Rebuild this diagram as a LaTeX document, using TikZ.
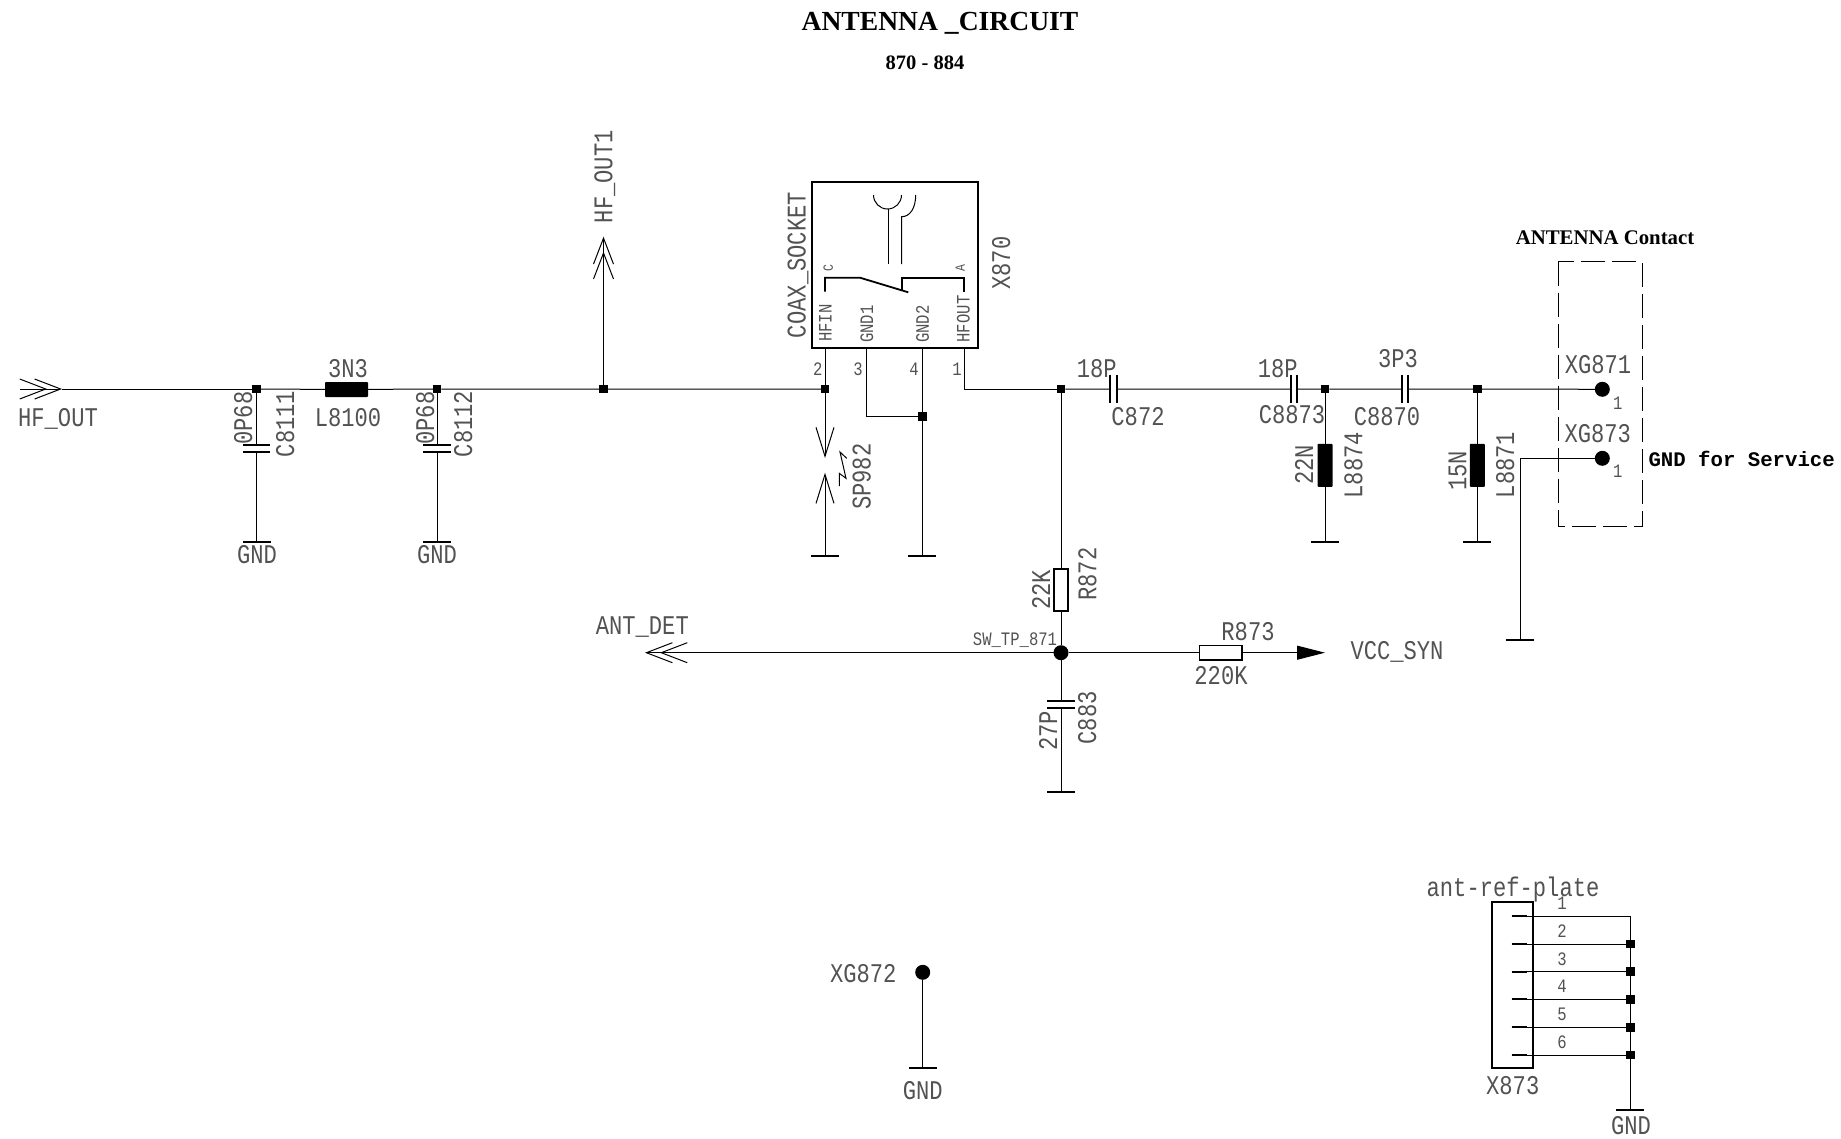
\documentclass[tikz,border=0pt]{standalone}
\usepackage{fontspec}
\setmainfont{Liberation Serif}
\newfontfamily\cadfont[FakeStretch=0.82]{Liberation Mono}
\newfontfamily\servicefont{Liberation Mono}
\usetikzlibrary{arrows.meta}
\tikzset{
	lab/.style={font=\cadfont\fontsize{27}{27}\selectfont,inner sep=0pt,outer sep=0pt,text height=18pt,text depth=0pt,text=black!68},
	vlab/.style={lab,rotate=90},
	small/.style={font=\cadfont\fontsize{19}{19}\selectfont,inner sep=0pt,outer sep=0pt,text height=13pt,text depth=0pt,text=black!68},
	vsmall/.style={small,rotate=90},
	tiny/.style={vsmall,font=\cadfont\fontsize{14}{14}\selectfont,text height=9.5pt},
	title/.style={font=\bfseries\fontsize{#1}{#1}\selectfont,inner sep=0pt},
	junct/.style={rectangle,fill=black,minimum size=8.5pt,inner sep=0pt,outer sep=0pt},
	bigdot/.style={circle,fill=black,minimum size=15pt,inner sep=0pt,outer sep=0pt},
	ind/.style={rectangle,rounded corners=0.8pt,fill=black,inner sep=0pt,outer sep=0pt},
	res/.style={rectangle,draw,line width=1.8pt,fill=white,inner sep=0pt,outer sep=0pt},
	capnode/.style={rectangle,inner sep=0pt,outer sep=0pt},
	gndbar/.style={rectangle,fill=black,minimum width=28pt,minimum height=1.8pt,inner sep=0pt,outer sep=0pt},
	plate/.style={line width=1.8pt},
	chevron/.tip={Straight Barb[length=26pt,width=20pt,sep=-13pt] Straight Barb[length=26pt,width=20pt]},
	barb/.tip={Straight Barb[length=29pt,width=18pt]},
}
\begin{document}
\begin{tikzpicture}[x=1pt,y=-1pt,line width=1pt]
	\useasboundingbox (0,0) rectangle (1841,1138);
	% titles
	\node[title=27.6] (tMain) at (940,23.5) {ANTENNA \_CIRCUIT};
	\node[title=20.5] (tRange) at (925,62.5) {870 - 884};
	\node[title=20.8] (tContact) at (1605,237.5) {ANTENNA Contact};
	% junctions
	\node[junct] (j1) at (256.5,389) {};
	\node[junct] (j2) at (437,389) {};
	\node[junct] (j3) at (603.5,389) {};
	\node[junct] (j4) at (825,389) {};
	\node[junct] (j5) at (922.3,416.7) {};
	\node[junct] (j6) at (1061,389) {};
	\node[junct] (j7) at (1325,389) {};
	\node[junct] (j8) at (1477.3,389) {};
	\node[bigdot] (j9) at (1061,652.7) {};
	% parts
	\node[ind,minimum width=43pt,minimum height=15pt] (L8100) at (346.5,389.5) {};
	\node[ind,minimum width=15pt,minimum height=43pt] (L8874) at (1325,465.3) {};
	\node[ind,minimum width=15pt,minimum height=43pt] (L8871) at (1477.3,465.3) {};
	\node[res,minimum width=14.5pt,minimum height=41.5pt] (R872) at (1061,590) {};
	\node[res,minimum width=42.5pt,minimum height=14.5pt] (R873) at (1220.7,652.7) {};
	\node[capnode,minimum width=27.5pt,minimum height=6.7pt] (C8111) at (256.5,448.3) {};
	\node[capnode,minimum width=27.5pt,minimum height=6.7pt] (C8112) at (437,448.3) {};
	\node[capnode,minimum width=27.5pt,minimum height=7.3pt] (C883) at (1061,704.7) {};
	\node[capnode,minimum width=6.7pt,minimum height=27.7pt] (C872) at (1113.3,389) {};
	\node[capnode,minimum width=6.7pt,minimum height=27.7pt] (C8873) at (1294,389) {};
	\node[capnode,minimum width=6.7pt,minimum height=27.7pt] (C8870) at (1405,389) {};
	\foreach \c in {C8111,C8112,C883}
		\draw[plate] (\c.north west) -- (\c.north east) (\c.south west) -- (\c.south east);
	\foreach \c in {C872,C8873,C8870}
		\draw[plate] (\c.north west) -- (\c.south west) (\c.north east) -- (\c.south east);
	% ground bars
	\node[gndbar] (g1) at (256.5,541.7) {};
	\node[gndbar] (g2) at (437,541.7) {};
	\node[gndbar] (g3) at (825,556) {};
	\node[gndbar] (g4) at (922.3,556) {};
	\node[gndbar] (g5) at (1325,541.7) {};
	\node[gndbar] (g6) at (1477.3,541.7) {};
	\node[gndbar] (g7) at (1520,640) {};
	\node[gndbar] (g8) at (1061,791.7) {};
	\node[gndbar] (g9) at (922.7,1068.3) {};
	\node[gndbar] (g10) at (1630.3,1110) {};
	% test points
	\node[bigdot] (XG871) at (1602.3,389.3) {};
	\node[bigdot] (XG873) at (1602.3,458.3) {};
	\node[bigdot] (XG872) at (922.7,972.3) {};
	% socket
	\draw[line width=1.8pt] (811.7,181.7) rectangle (978,347.7);
	\coordinate (pinHFIN) at (825,347.7);
	\coordinate (pinGND1) at (866.7,347.7);
	\coordinate (pinGND2) at (922.3,347.7);
	\coordinate (pinHFOUT) at (964,347.7);
	\draw[line width=1.8pt] (825,291.7) -- (825,277.7) -- (860,277.7) -- (908.3,292.3);
	\draw[line width=1.8pt] (964,291.7) -- (964,277.7) -- (901.7,277.7) -- (901.7,290);
	\draw (873.5,195) arc[start angle=180,end angle=0,radius=14];
	\draw (888,209) -- (888,264);
	\draw (915.7,195) .. controls (915.7,208) and (910,216.7) .. (901.7,216.7) -- (901.7,264);
	% wires
	\coordinate (hftail) at (20,389);
	\coordinate (hftip) at (62,389);
	\coordinate (hfout1) at (603.5,236.7);
	\coordinate (antdet) at (645,652.7);
	\coordinate (vccsyn) at (1325,652.7);
	\coordinate (sparkA) at (825,458);
	\coordinate (sparkB) at (825,472.7);
	\draw[-chevron] (hftail) -- (hftip);
	\draw (hftip) -- (j1);
	\draw (j1) -- (L8100) -- (j2) -- (j3) -- (j4);
	\draw[-chevron] (j3) -- (hfout1);
	\draw (pinHFIN) -- (j4);
	\draw (pinGND1) |- (j5);
	\draw (pinGND2) -- (j5) -- (g4);
	\draw (pinHFOUT) |- (j6);
	\draw (j6) -- (C872) -- (C8873) -- (j7) -- (C8870) -- (j8) -- (XG871);
	\draw (j1) -- (C8111) -- (g1);
	\draw (j2) -- (C8112) -- (g2);
	\draw (j7) -- (L8874) -- (g5);
	\draw (j8) -- (L8871) -- (g6);
	\draw (j6) -- (R872) -- (j9) -- (C883) -- (g8);
	\draw[-chevron] (j9) -- (antdet);
	\draw (j9) -- (R873);
	\draw[-{Triangle[length=28pt,width=14pt]}] (R873) -- (vccsyn);
	\draw[-barb] (j4) -- (sparkA);
	\draw[-barb] (g3) -- (sparkB);
	\draw (846.7,458.3) -- (840,452) -- (846,478.3) -- (839.3,473.3) -- (839.3,486);
	\draw (XG873) -| (g7);
	\draw (XG872) -- (g9);
	% contact frame
	\draw[dash pattern=on 24pt off 7pt] (1558.3,261.7) rectangle (1642.3,526.7);
	% header
	\node[tiny] (tC) at (828,268) {C};
	\node[tiny] (tA) at (960,268) {A};
	\node[vsmall] (tHFIN) at (825,323) {HFIN};
	\node[vsmall] (tGND1) at (866.7,324) {GND1};
	\node[vsmall] (tGND2) at (922.3,324) {GND2};
	\node[vsmall] (tHFOUT) at (963,319) {HFOUT};
	\node[small] (t2) at (817.7,369) {2};
	\node[small] (t3) at (858,369) {3};
	\node[small] (t4) at (914,369) {4};
	\node[small] (t1) at (957,369) {1};
	\node[vlab] (tCOAX) at (796.7,265) {COAX\_SOCKET};
	\node[vlab] (tX870) at (1001,263) {X870};
	\node[vlab] (tSP982) at (861.7,476.7) {SP982};
	% labels
	\node[lab] (tHFOUTa) at (58,417) {HF\_OUT};
	\node[vlab] (tHFOUT1) at (603.3,176.7) {HF\_OUT1};
	\node[lab] (t3N3) at (348,368.5) {3N3};
	\node[lab] (tL8100) at (348,417) {L8100};
	\node[vlab] (t0P68a) at (243,418) {0P68};
	\node[vlab] (tC8111) at (285,424) {C8111};
	\node[lab] (tGa) at (257,554) {GND};
	\node[vlab] (t0P68b) at (425,418) {0P68};
	\node[vlab] (tC8112) at (463,424) {C8112};
	\node[lab] (tGb) at (437,554) {GND};
	\node[lab] (t18Pa) at (1096.7,368.3) {18P};
	\node[lab] (tC872) at (1138,416) {C872};
	\node[lab] (t18Pb) at (1277.7,368.3) {18P};
	\node[lab] (tC8873) at (1292,414) {C8873};
	\node[lab] (t3P3) at (1398,358) {3P3};
	\node[lab] (tC8870) at (1387,416.7) {C8870};
	\node[vlab] (t22N) at (1304,465) {22N};
	\node[vlab] (tL8874) at (1353.3,465.3) {L8874};
	\node[vlab] (t15N) at (1457.3,470.8) {15N};
	\node[vlab] (tL8871) at (1505,465) {L8871};
	\node[lab] (tXG871) at (1598,364) {XG871};
	\node[lab] (tXG873) at (1597.7,433) {XG873};
	\node[small] (t1a) at (1617.7,402.7) {1};
	\node[small] (t1b) at (1617.7,471) {1};
	\node[anchor=west,inner sep=0pt,font=\servicefont\bfseries\fontsize{20.7}{20.7}\selectfont] (tService) at (1648,459) {GND for Service};
	\node[vlab] (t22K) at (1041,590) {22K};
	\node[vlab] (tR872) at (1087.3,574) {R872};
	\node[vlab] (t27P) at (1048,731) {27P};
	\node[vlab] (tC883) at (1087,717.7) {C883};
	\node[small] (tSW) at (1015,639.3) {SW\_TP\_871};
	\node[lab] (tANT) at (642.3,625.7) {ANT\_DET};
	\node[lab] (tR873) at (1248,631.7) {R873};
	\node[lab] (t220K) at (1221,675) {220K};
	\node[lab] (tVCC) at (1397,650.5) {VCC\_SYN};
	\node[lab] (tXG872) at (863.3,973.3) {XG872};
	\node[lab] (tGc) at (922.7,1090) {GND};
	% plate connector
	\node[lab] (tPlate) at (1513,887.6) {ant-ref-plate};
	\node[lab] (tX873) at (1512.7,1085.7) {X873};
	\node[lab] (tGd) at (1631,1125) {GND};
	\draw[line width=1.8pt] (1491.7,902.3) rectangle (1533.3,1068.3);
	\coordinate (railtop) at (1630.3,916);
	\draw (railtop) -- (g10);
	\foreach \n/\y in {1/916,2/944,3/971.7,4/999.3,5/1027.3,6/1055}{
		\coordinate (pin\n) at (1511.7,\y);
		\coordinate (rail\n) at (1630.3,\y);
		\draw[line width=1.8pt] (pin\n) -- ++(15,0);
		\draw (pin\n) -- (rail\n);
		\node[small] (num\n) at (1562,\y-13) {\n};
	}
	\foreach \n in {2,...,6}
		\node[junct] (rj\n) at (rail\n) {};
\end{tikzpicture}
\end{document}
